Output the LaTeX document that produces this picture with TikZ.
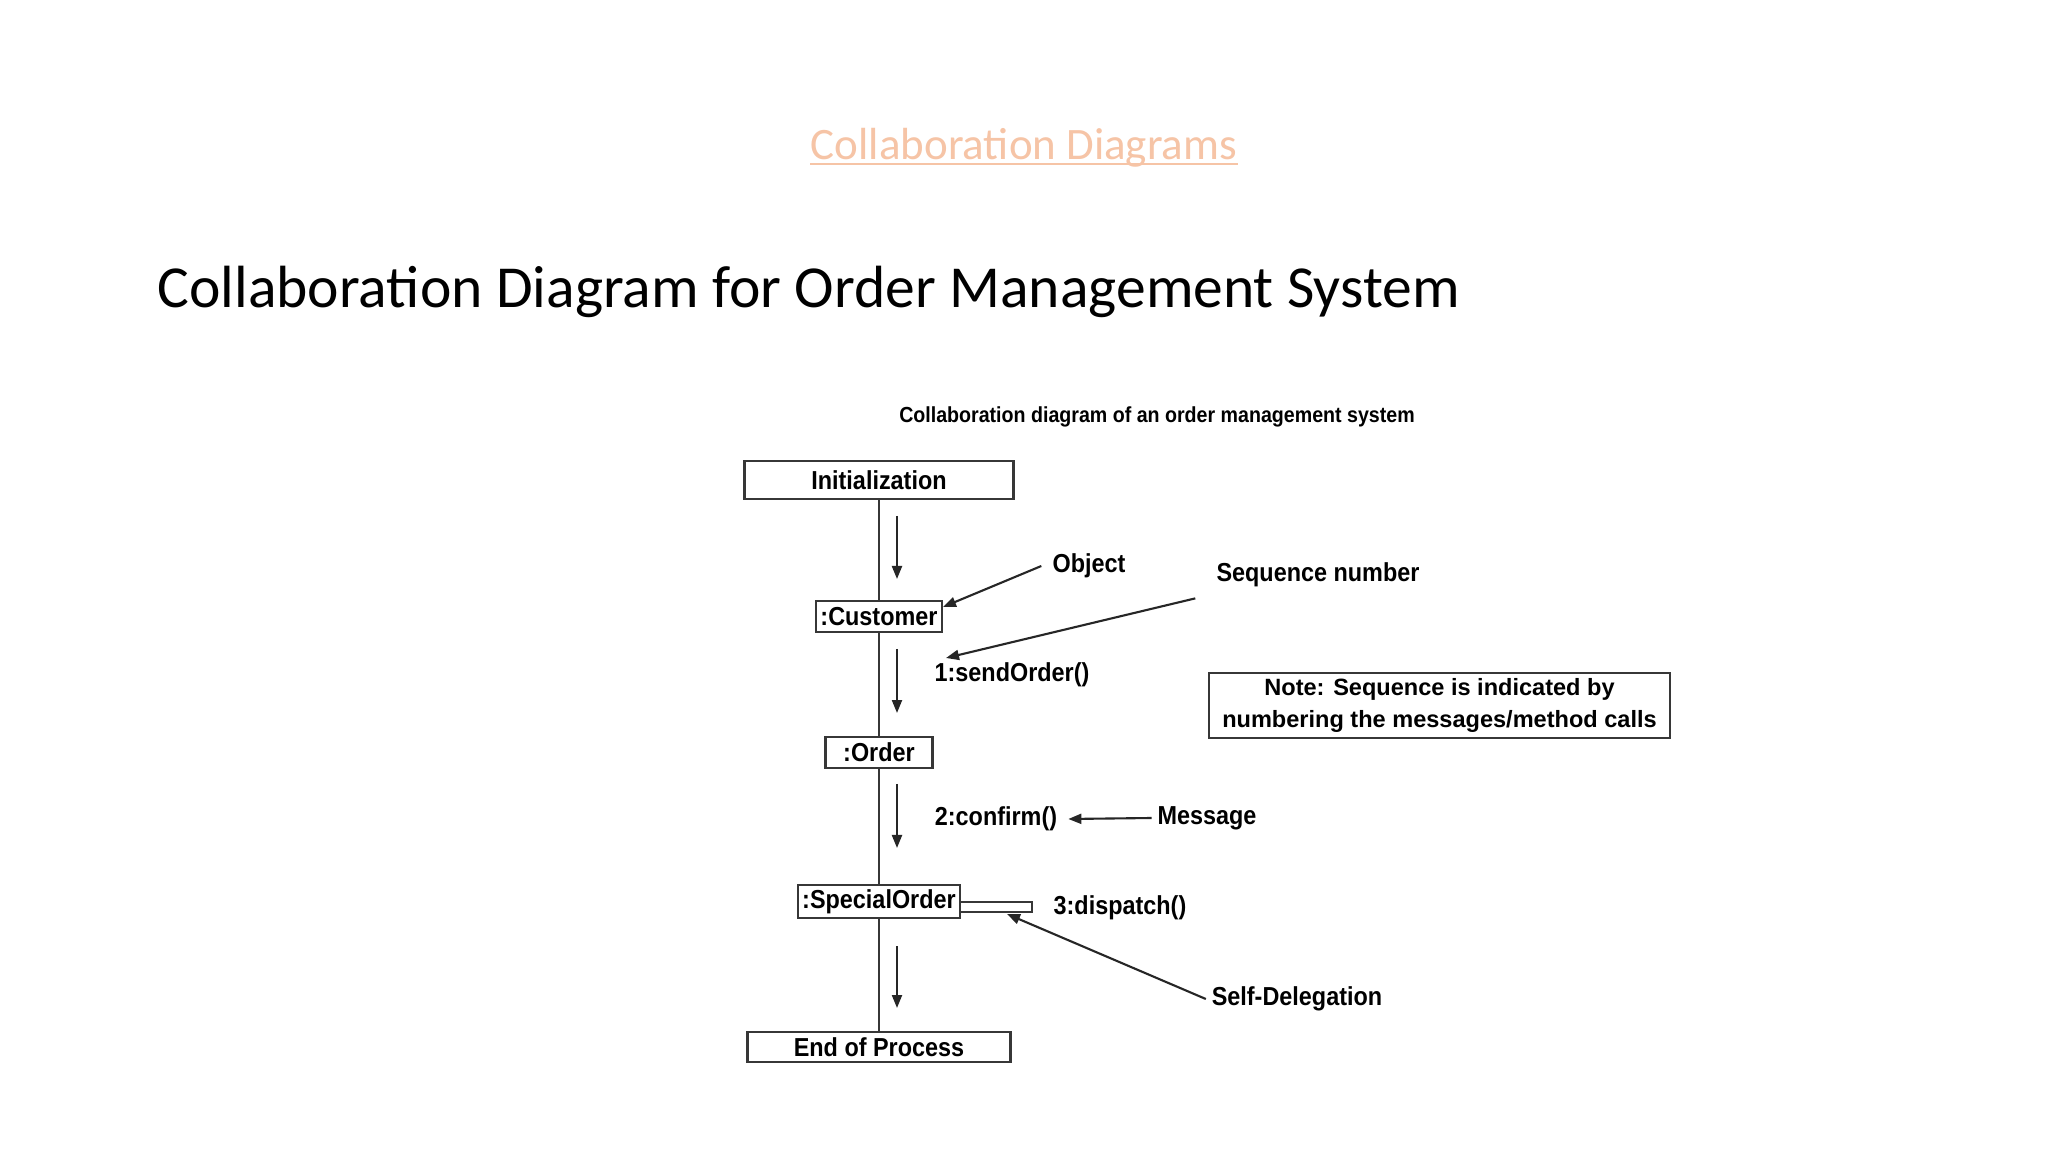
\documentclass[tikz,border=0pt]{standalone}
\usepackage{fontspec}
\setmainfont{Carlito}
\newfontfamily\diagfont{Liberation Sans}[FakeStretch=0.9]
\newfontfamily\notefont{Liberation Sans}
\usetikzlibrary{arrows.meta}

\definecolor{linkpeach}{RGB}{246,196,166}
\definecolor{diagline}{RGB}{55,55,55}

\tikzset{
	objbox/.style={draw=diagline, line width=0.7pt, inner sep=0pt, font=\diagfont\bfseries\fontsize{7.4}{8}\selectfont},
	lbl/.style={font=\diagfont\bfseries\fontsize{7.4}{8}\selectfont, inner sep=3pt},
	msgarrow/.style={-{Triangle[length=1.3mm,width=1mm]}, line width=0.6pt, draw=black!85},
}

\begin{document}
\begin{tikzpicture}
			\fill [white] (0,0) rectangle (20.48,-11.52);
			\useasboundingbox (0,0) rectangle (20.48,-11.52);

			% slide titles
			\node [inner sep=0pt, text=linkpeach, font=\fontsize{12.8}{15}\selectfont](link) at (10.24,-1.48) {Collaboration Diagrams};
			\draw [linkpeach, line width=0.6pt]([yshift=-0.45mm]link.base west) -- ([yshift=-0.45mm]link.base east);
			\node [anchor=west, inner sep=0pt, font=\fontsize{16.95}{20}\selectfont](heading) at (1.57,-2.92) {Collaboration Diagram for Order Management System};

			% diagram caption
			\node [font=\diagfont\bfseries\fontsize{6.2}{7}\selectfont](caption) at (11.57,-4.17) {Collaboration diagram of an order management system};

			% objects on the lifeline
			\node [objbox, minimum width=2.69cm, minimum height=0.38cm](init) at (8.79,-4.80) {Initialization};
			\node [objbox, minimum width=1.26cm, minimum height=0.31cm](cust) at (8.79,-6.165) {:Customer};
			\node [objbox, minimum width=1.07cm, minimum height=0.31cm](order) at (8.79,-7.525) {:Order};
			\node [objbox, minimum width=1.62cm, minimum height=0.33cm](special) at (8.79,-9.015) {:SpecialOrder};
			\node [objbox, minimum width=2.63cm, minimum height=0.30cm](endp) at (8.79,-10.47) {End of Process};

			\draw [diagline, line width=0.7pt](init) -- (cust);
			\draw [diagline, line width=0.7pt](cust) -- (order);
			\draw [diagline, line width=0.7pt](order) -- (special);
			\draw [diagline, line width=0.7pt](special) -- (endp);

			% message arrows
			\coordinate (m1a) at (8.97,-5.16);
			\coordinate (m1b) at (8.97,-5.79);
			\coordinate (m2a) at (8.97,-6.49);
			\coordinate (m2b) at (8.97,-7.13);
			\coordinate (m3a) at (8.97,-7.84);
			\coordinate (m3b) at (8.97,-8.48);
			\coordinate (m4a) at (8.97,-9.46);
			\coordinate (m4b) at (8.97,-10.08);

			\draw [msgarrow](m1a) -- (m1b);
			\draw [msgarrow](m2a) -- (m2b);
			\draw [msgarrow](m3a) -- (m3b);
			\draw [msgarrow](m4a) -- (m4b);

			% self delegation
			\coordinate (loopa) at (10.32,-9.02);
			\coordinate (loopb) at (10.32,-9.12);
			\draw [diagline, line width=0.7pt](special.east |- loopa) -- (loopa) -- (loopb) -- (special.east |- loopb);

			% labels
			\node [lbl](obj) at (10.89,-5.66) {Object};
			\node [lbl](seqnum) at (13.18,-5.75) {Sequence number};
			\node [lbl](send) at (10.12,-6.75) {1:sendOrder()};
			\node [lbl](conf) at (9.96,-8.19) {2:confirm()};
			\node [lbl, inner sep=1.5pt](msg) at (12.07,-8.18) {Message};
			\node [lbl](disp) at (11.20,-9.08) {3:dispatch()};
			\node [lbl, inner sep=1.5pt](selfdel) at (12.97,-9.99) {Self-Delegation};

			\node [draw=diagline, line width=0.7pt, minimum width=4.61cm, minimum height=0.65cm, align=center, inner sep=0pt, font=\notefont\bfseries\fontsize{6.7}{9.1}\selectfont](note) at (14.395,-7.055) {Note: Sequence is indicated by\\numbering the messages/method calls};

			% pointers
			\coordinate (objtip) at (9.43,-6.07);
			\coordinate (seqtip) at (9.46,-6.58);
			\coordinate (sdtip) at (10.07,-9.14);

			\draw [msgarrow](obj.west) -- (objtip);
			\draw [msgarrow]([xshift=-1mm]seqnum.south west) -- (seqtip);
			\draw [msgarrow](msg.west) -- (conf.east);
			\draw [msgarrow](selfdel.west) -- (sdtip);

		\end{tikzpicture}
\end{document}
